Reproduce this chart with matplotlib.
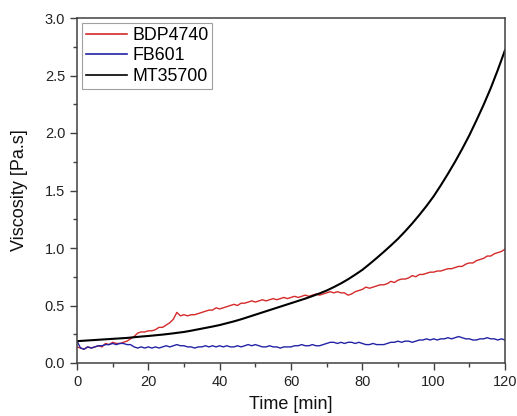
import matplotlib
matplotlib.use("Agg")
import matplotlib.pyplot as plt
from matplotlib.ticker import MultipleLocator, FormatStrFormatter

plt.rcParams['font.family'] = ['Liberation Sans', 'DejaVu Sans']

# Time axis (min)
time_fine = list(range(0, 121))          # 1-min steps for noisy series
time_black = list(range(0, 121, 2))      # 2-min steps for smooth series

bdp4740 = [0.14, 0.13, 0.12, 0.14, 0.13, 0.14, 0.15, 0.14, 0.17, 0.16,
           0.18, 0.17, 0.17, 0.18, 0.19, 0.21, 0.23, 0.26, 0.27, 0.27,
           0.28, 0.28, 0.29, 0.31, 0.31, 0.33, 0.35, 0.38, 0.44, 0.41,
           0.42, 0.41, 0.42, 0.42, 0.43, 0.44, 0.45, 0.46, 0.46, 0.48,
           0.47, 0.48, 0.49, 0.50, 0.51, 0.50, 0.52, 0.52, 0.53, 0.54,
           0.53, 0.54, 0.55, 0.54, 0.55, 0.56, 0.55, 0.56, 0.57, 0.56,
           0.57, 0.58, 0.57, 0.58, 0.59, 0.58, 0.59, 0.60, 0.59, 0.60,
           0.61, 0.62, 0.61, 0.62, 0.61, 0.61, 0.59, 0.60, 0.62, 0.63,
           0.64, 0.66, 0.65, 0.66, 0.67, 0.68, 0.68, 0.69, 0.71, 0.70,
           0.72, 0.73, 0.73, 0.74, 0.76, 0.75, 0.77, 0.77, 0.78, 0.79,
           0.79, 0.80, 0.80, 0.81, 0.82, 0.82, 0.83, 0.84, 0.84, 0.86,
           0.87, 0.87, 0.89, 0.90, 0.91, 0.93, 0.93, 0.95, 0.96, 0.97,
           0.99]

fb601 = [0.19, 0.13, 0.12, 0.14, 0.13, 0.14, 0.15, 0.15, 0.16, 0.16,
         0.17, 0.16, 0.17, 0.17, 0.16, 0.16, 0.14, 0.13, 0.14, 0.13,
         0.14, 0.13, 0.14, 0.13, 0.14, 0.15, 0.14, 0.15, 0.16, 0.15,
         0.15, 0.14, 0.14, 0.13, 0.14, 0.14, 0.15, 0.14, 0.15, 0.14,
         0.15, 0.14, 0.15, 0.14, 0.14, 0.15, 0.14, 0.15, 0.16, 0.15,
         0.16, 0.15, 0.14, 0.14, 0.15, 0.14, 0.14, 0.13, 0.14, 0.14,
         0.14, 0.15, 0.15, 0.16, 0.15, 0.15, 0.16, 0.15, 0.15, 0.16,
         0.17, 0.18, 0.18, 0.17, 0.18, 0.17, 0.18, 0.18, 0.17, 0.18,
         0.17, 0.16, 0.16, 0.17, 0.16, 0.16, 0.16, 0.17, 0.18, 0.18,
         0.19, 0.18, 0.19, 0.19, 0.18, 0.19, 0.20, 0.20, 0.21, 0.20,
         0.21, 0.20, 0.21, 0.21, 0.22, 0.21, 0.22, 0.23, 0.22, 0.21,
         0.21, 0.20, 0.20, 0.21, 0.21, 0.22, 0.21, 0.21, 0.20, 0.21,
         0.20]

mt35700 = [0.190, 0.194, 0.198, 0.202, 0.206, 0.210, 0.214, 0.218, 0.224, 0.230,
           0.235, 0.241, 0.247, 0.254, 0.262, 0.270, 0.281, 0.293, 0.305, 0.317,
           0.330, 0.346, 0.362, 0.380, 0.400, 0.420, 0.440, 0.460, 0.480, 0.500,
           0.520, 0.540, 0.560, 0.582, 0.605, 0.630, 0.660, 0.692, 0.728, 0.768,
           0.810, 0.860, 0.912, 0.966, 1.022, 1.080, 1.145, 1.214, 1.288, 1.366,
           1.450, 1.545, 1.645, 1.750, 1.862, 1.980, 2.110, 2.245, 2.390, 2.550,
           2.720]

labels = ["BDP4740", "FB601", "MT35700"]
colors = ["#d42a2a", "#2323a6", "#000000"]

fig = plt.figure(figsize=(5.17, 4.16), dpi=100)
ax = fig.add_axes([77/517, 53/416, 428/517, 345/416])

ax.plot(time_fine, bdp4740, color=colors[0], lw=1.0, label=labels[0])
ax.plot(time_fine, fb601, color=colors[1], lw=1.0, label=labels[1])
ax.plot(time_black, mt35700, color=colors[2], lw=1.5, label=labels[2])

ax.set_xlim(0, 120)
ax.set_ylim(0, 3.0)
ax.xaxis.set_major_locator(MultipleLocator(20))
ax.xaxis.set_minor_locator(MultipleLocator(10))
ax.yaxis.set_major_locator(MultipleLocator(0.5))
ax.yaxis.set_minor_locator(MultipleLocator(0.25))
ax.yaxis.set_major_formatter(FormatStrFormatter('%.1f'))

spine_color = "#404040"
for s in ax.spines.values():
    s.set_color(spine_color)
    s.set_linewidth(1.1)
ax.tick_params(which='both', direction='out', top=False, right=False,
               color=spine_color, width=1.0, labelsize=10.5, labelcolor='#222222')
ax.tick_params(which='major', length=5)
ax.tick_params(which='minor', length=3)

ax.set_xlabel("Time [min]", fontsize=13, color='#111111', labelpad=5)
ax.set_ylabel("Viscosity [Pa.s]", fontsize=13, color='#111111', labelpad=12)

leg = ax.legend(loc='upper left', fontsize=12.8, frameon=True, fancybox=False,
                borderaxespad=0.3, handlelength=2.3, handletextpad=0.3,
                borderpad=0.2, labelspacing=0.2)
leg.get_frame().set_edgecolor('#888888')
leg.get_frame().set_linewidth(0.8)
for line in leg.get_lines():
    line.set_linewidth(1.2)

fig.savefig("out.png", dpi=100)
